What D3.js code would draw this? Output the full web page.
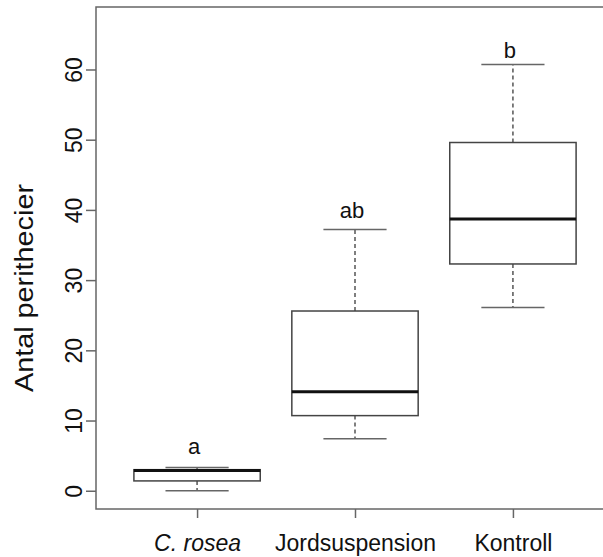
<!DOCTYPE html>
<html lang="en">
    <head>
        <title>Antal perithecier</title>
        <meta charset="UTF-8">
        <script src="https://cdn.jsdelivr.net/npm/d3@7"></script>
        <style>
            body { margin: 0; background: #fff; }
            text { font-family: "Liberation Sans", Arial, sans-serif; fill: #111; }
        </style>
    </head>
    <body>
        <script>
            // data
            const categories = ["C. rosea", "Jordsuspension", "Kontroll"]
            const whiskerLow = [0, 7.4, 26.1]
            const q1 = [1.4, 10.7, 32.3]
            const median = [2.9, 14.1, 38.7]
            const q3 = [3.0, 25.6, 49.6]
            const whiskerHigh = [3.3, 37.2, 60.7]
            const letters = ["a", "ab", "b"]
            const letterY = [5.3, 38.9, 61.7]
            const yTicks = [0, 10, 20, 30, 40, 50, 60]

            const width = 603
            const height = 557
            // the right edge of the frame lies outside the picture
            const plotLeft = 96, plotTop = 7, plotBottom = 509, plotRight = 614

            const svg = d3.select("body").append("svg")
                .attr("width", width)
                .attr("height", height)

            const x = d3.scalePoint()
                .domain(categories)
                .range([plotLeft, plotRight])
                .padding(0.64)

            const y = d3.scaleLinear()
                .domain([-2.6, 68.9])
                .range([plotBottom, plotTop])

            const boxW = x.step() * 0.8
            const capW = boxW / 2

            // frame
            svg.append("rect")
                .attr("x", plotLeft).attr("y", plotTop)
                .attr("width", plotRight - plotLeft).attr("height", plotBottom - plotTop)
                .attr("fill", "none")
                .attr("stroke", "#666")
                .attr("stroke-width", 1.5)

            // y axis
            const yAxis = svg.append("g")
                .attr("transform", `translate(${plotLeft},0)`)
                .call(d3.axisLeft(y).tickValues(yTicks).tickSize(10).tickPadding(0))
            yAxis.select(".domain").remove()
            yAxis.selectAll(".tick line").attr("stroke", "#666").attr("stroke-width", 1.5)
            yAxis.selectAll(".tick text")
                .attr("transform", "rotate(-90)")
                .attr("x", 0).attr("y", -14).attr("dy", 0)
                .attr("text-anchor", "middle")
                .style("font-size", "23px")
                .style("font-family", "Liberation Sans, Arial, sans-serif")
                .attr("fill", "#111")

            // x axis
            const xAxis = svg.append("g")
                .attr("transform", `translate(0,${plotBottom})`)
                .call(d3.axisBottom(x).tickSize(9).tickPadding(0))
            xAxis.select(".domain").remove()
            xAxis.selectAll(".tick line").attr("stroke", "#666").attr("stroke-width", 1.5)
            xAxis.selectAll(".tick text")
                .attr("y", 42).attr("dy", 0)
                .style("font-size", "23px")
                .style("font-family", "Liberation Sans, Arial, sans-serif")
                .style("font-style", (d, i) => i === 0 ? "italic" : "normal")
                .attr("fill", "#111")

            // y label
            svg.append("text")
                .attr("transform", "translate(33,288) rotate(-90)")
                .attr("text-anchor", "middle")
                .attr("textLength", 208)
                .attr("lengthAdjust", "spacingAndGlyphs")
                .style("font-size", "26px")
                .text("Antal perithecier")

            const boxes = svg.selectAll("g.box")
                .data(categories)
                .enter()
                .append("g")
                .attr("class", "box")

            // whiskers
            boxes.append("line")
                .attr("x1", d => x(d)).attr("x2", d => x(d))
                .attr("y1", (d, i) => y(q3[i])).attr("y2", (d, i) => y(whiskerHigh[i]))
                .attr("stroke", "#555").attr("stroke-width", 1.5)
                .attr("stroke-dasharray", "4,3")
            boxes.append("line")
                .attr("x1", d => x(d)).attr("x2", d => x(d))
                .attr("y1", (d, i) => y(q1[i])).attr("y2", (d, i) => y(whiskerLow[i]))
                .attr("stroke", "#555").attr("stroke-width", 1.5)
                .attr("stroke-dasharray", "4,3")

            // caps
            boxes.append("line")
                .attr("x1", d => x(d) - capW / 2).attr("x2", d => x(d) + capW / 2)
                .attr("y1", (d, i) => y(whiskerHigh[i])).attr("y2", (d, i) => y(whiskerHigh[i]))
                .attr("stroke", "#666").attr("stroke-width", 1.5)
            boxes.append("line")
                .attr("x1", d => x(d) - capW / 2).attr("x2", d => x(d) + capW / 2)
                .attr("y1", (d, i) => y(whiskerLow[i])).attr("y2", (d, i) => y(whiskerLow[i]))
                .attr("stroke", "#666").attr("stroke-width", 1.5)

            // box
            boxes.append("rect")
                .attr("x", d => x(d) - boxW / 2)
                .attr("width", boxW)
                .attr("y", (d, i) => y(q3[i]))
                .attr("height", (d, i) => y(q1[i]) - y(q3[i]))
                .attr("fill", "#fff")
                .attr("stroke", "#444")
                .attr("stroke-width", 1.5)

            // median
            boxes.append("line")
                .attr("x1", d => x(d) - boxW / 2).attr("x2", d => x(d) + boxW / 2)
                .attr("y1", (d, i) => y(median[i])).attr("y2", (d, i) => y(median[i]))
                .attr("stroke", "#111").attr("stroke-width", 3)

            // group letters
            boxes.append("text")
                .attr("x", d => x(d) - 3)
                .attr("y", (d, i) => y(letterY[i]))
                .attr("text-anchor", "middle")
                .style("font-size", "22px")
                .text((d, i) => letters[i])
        </script>
    </body>
</html>
